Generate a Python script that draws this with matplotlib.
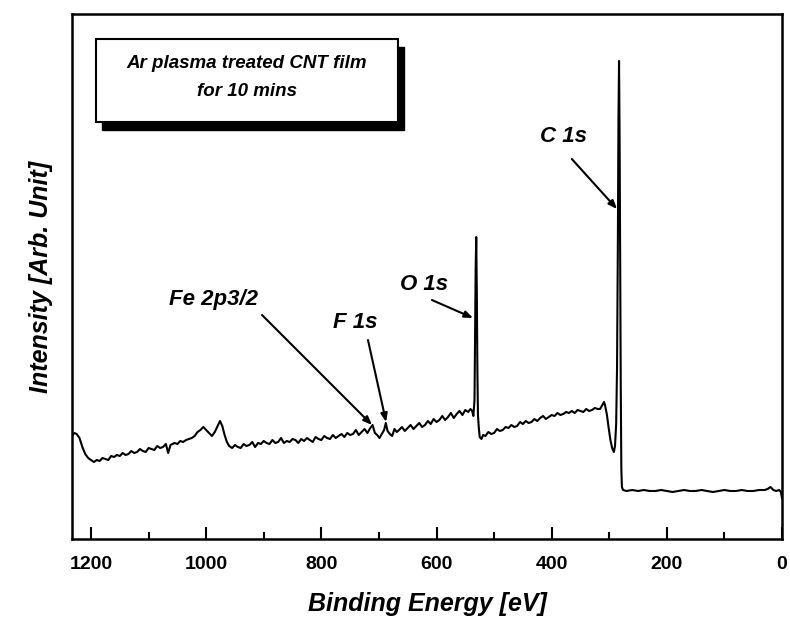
import numpy as np
import matplotlib
matplotlib.use("Agg")
import matplotlib.pyplot as plt
from matplotlib.patches import Rectangle

# XPS survey spectrum (binding energy in eV, intensity in arbitrary units)
energy = [
    1233, 1229, 1225, 1220, 1215, 1210, 1205, 1200, 1195, 1190,
    1185, 1180, 1175, 1170, 1165, 1160, 1155, 1150, 1145, 1140,
    1135, 1130, 1125, 1120, 1115, 1110, 1105, 1100, 1095, 1090,
    1085, 1080, 1075, 1070, 1066, 1062, 1055, 1050, 1045, 1040,
    1035, 1030, 1025, 1020, 1015, 1010, 1005, 1000, 995, 990,
    985, 980, 976, 972, 968, 964, 960, 955, 950, 945,
    940, 935, 930, 925, 920, 915, 910, 905, 900, 895,
    890, 885, 880, 875, 870, 865, 860, 855, 850, 845,
    840, 835, 830, 825, 820, 815, 810, 805, 800, 795,
    790, 785, 780, 775, 770, 765, 760, 755, 750, 745,
    740, 735, 730, 725, 720, 715, 711, 707, 703, 699,
    695, 691, 688, 685, 681, 677, 673, 669, 665, 660,
    655, 650, 645, 640, 635, 630, 625, 620, 615, 610,
    605, 600, 595, 590, 585, 580, 575, 570, 565, 560,
    555, 550, 545, 541, 538, 536, 534, 533, 532, 531,
    530, 529, 528, 526.5, 525, 522, 519, 515, 510, 505,
    500, 495, 490, 485, 480, 475, 470, 465, 460, 455,
    450, 445, 440, 435, 430, 425, 420, 415, 410, 405,
    400, 395, 390, 385, 380, 375, 370, 365, 360, 355,
    350, 345, 340, 335, 330, 325, 320, 316, 312, 309,
    307, 304, 301, 298, 295, 292, 290, 288, 286.5, 285,
    284, 283, 282, 281, 280, 279, 278, 276, 270, 260,
    250, 240, 230, 220, 210, 200, 190, 180, 170, 160,
    150, 140, 130, 120, 110, 100, 90, 80, 70, 60,
    50, 40, 30, 25, 20, 15, 10, 5, 2, 0,
]
intensity = [
    103, 106, 105, 101, 92, 85, 81, 79, 77, 79,
    78, 81, 80, 79, 83, 82, 84, 83, 86, 84,
    85, 88, 86, 87, 90, 88, 87, 91, 90, 89,
    93, 91, 92, 95, 86, 94, 96, 95, 98, 97,
    99, 100, 101, 103, 107, 109, 112, 109, 106, 103,
    107, 113, 118, 113, 104, 97, 93, 91, 94, 92,
    91, 95, 93, 94, 97, 92, 96, 95, 98, 96,
    95, 99, 96, 97, 101, 96, 98, 97, 100, 99,
    96, 100, 98, 101, 99, 97, 102, 100, 99, 103,
    101, 100, 104, 101, 103, 105, 102, 106, 104, 105,
    109, 104, 107, 110, 106, 111, 114, 106, 104, 101,
    105, 109, 116, 108, 105, 103, 110, 107, 109, 112,
    108, 111, 114, 110, 113, 116, 112, 114, 118, 115,
    120, 117, 119, 123, 119, 122, 126, 121, 125, 128,
    124, 129, 127, 130, 128, 123, 139, 209, 269, 302,
    249, 169, 124, 111, 102, 100, 104, 103, 107, 105,
    106, 110, 108, 109, 112, 111, 114, 112, 113, 117,
    115, 118, 116, 117, 120, 118, 121, 123, 120, 122,
    124, 123, 126, 124, 125, 127, 126, 128, 126, 129,
    128, 127, 130, 128, 129, 131, 130, 130, 134, 137,
    133, 124, 111, 99, 91, 87, 93, 115, 170, 300,
    420, 478, 400, 280, 150, 70, 52, 49, 48, 49,
    48, 49, 48, 48, 49, 48, 47, 48, 49, 48,
    48, 49, 48, 47, 48, 49, 48, 48, 49, 48,
    48, 49, 49, 50, 52, 49, 48, 49, 47, 41,
]

# Peak labels: (text, text position, arrow tail, arrow head)
peak_labels = ["C 1s", "O 1s", "F 1s", "Fe 2p3/2"]
label_xy = [(380, 402), (621, 255), (741, 217), (988, 239)]
arrow_tail = [(365, 380), (608, 239), (719, 199), (903, 224)]
arrow_head = [(286.5, 330), (536.5, 221), (687.5, 117), (712, 114)]

xticks_major = [1200, 1000, 800, 600, 400, 200, 0]
xticks_minor = [1100, 900, 700, 500, 300, 100]

W, H = 790, 623
fig = plt.figure(figsize=(W / 100, H / 100), dpi=100)
ax = fig.add_axes([72 / W, 1 - 539 / H, (782 - 72) / W, (539 - 14) / H])

ax.plot(energy, intensity, color="black", lw=1.5)

ax.set_xlim(1233, 0)
ax.set_ylim(0, 525)

bold_it = dict(family="Liberation Sans", weight="bold", style="italic")

ax.set_xticks(xticks_major)
ax.set_xticks(xticks_minor, minor=True)
ax.set_xticklabels([str(v) for v in xticks_major], family="Liberation Sans",
                   weight="bold", fontsize=14)
ax.tick_params(axis="x", which="major", direction="in", length=9, width=1.5, pad=12)
ax.tick_params(axis="x", which="minor", direction="in", length=5, width=1.5)
ax.set_yticks([])
for s in ax.spines.values():
    s.set_linewidth(1.8)

ax.set_xlabel("Binding Energy [eV]", fontsize=18, labelpad=14, **bold_it)
ax.set_ylabel("Intensity [Arb. Unit]", fontsize=18, labelpad=14, **bold_it)

for text, txy, tail, head in zip(peak_labels, label_xy, arrow_tail, arrow_head):
    ax.text(txy[0], txy[1], text, ha="center", va="center", fontsize=16, **bold_it)
    ax.annotate("", xy=head, xytext=tail,
                arrowprops=dict(arrowstyle="-|>,head_length=0.5,head_width=0.2",
                                color="black", lw=1.5, shrinkA=0, shrinkB=0))

# Title box with drop shadow (figure pixel coordinates)
def px_box(x0, y0, x1, y1, **kw):
    return Rectangle((x0 / W, 1 - y1 / H), (x1 - x0) / W, (y1 - y0) / H,
                     transform=fig.transFigure, **kw)

fig.patches.append(px_box(102, 47, 404, 130, facecolor="black", edgecolor="black", zorder=5))
fig.patches.append(px_box(96, 39, 398, 122, facecolor="white", edgecolor="black",
                          lw=1.5, zorder=6))
fig.text(247 / W, 1 - 63 / H, "Ar plasma treated CNT film", ha="center", va="center",
         fontsize=13.5, zorder=7, **bold_it)
fig.text(247 / W, 1 - 92 / H, "for 10 mins", ha="center", va="center",
         fontsize=13.5, zorder=7, **bold_it)

fig.savefig("out.png", dpi=100)
